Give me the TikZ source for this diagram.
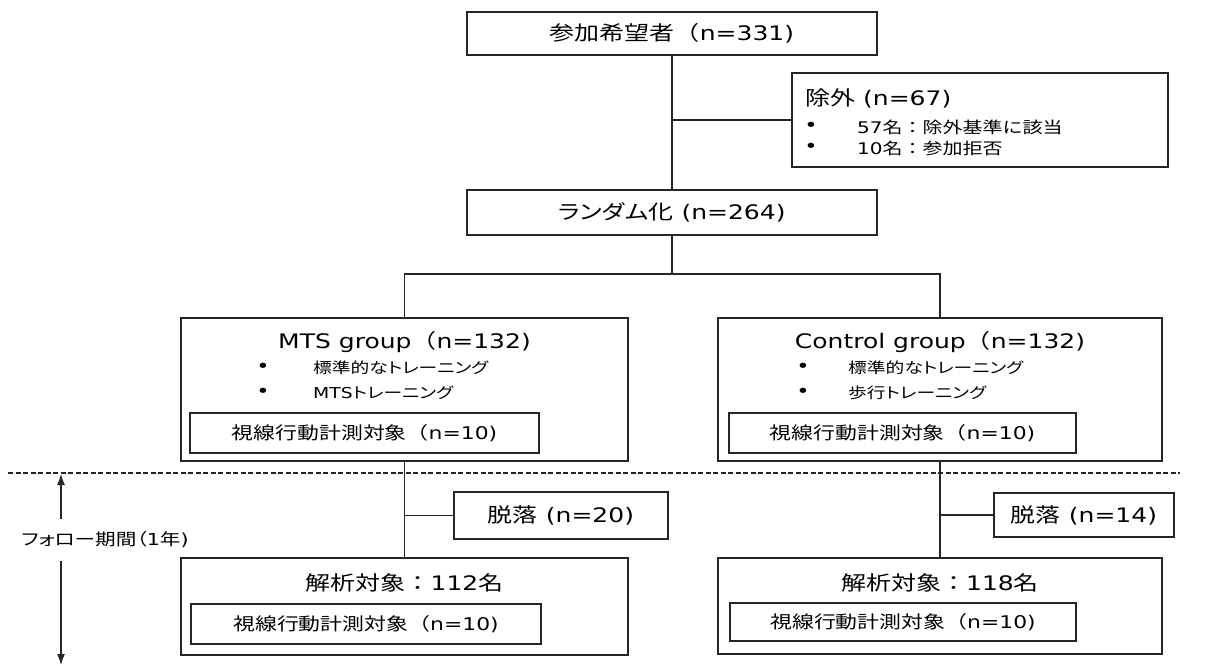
\documentclass[tikz,border=0pt]{standalone}
\usepackage{fontspec}
\setmainfont{DejaVu Sans}[FakeStretch=1.25]
\newfontfamily\jp{Noto Sans CJK JP}[FakeStretch=1.25]
\newfontfamily\jpp{Noto Sans CJK JP}[FakeStretch=1.25,RawFeature={+palt}]
\usetikzlibrary{arrows.meta}
\begin{document}
\begin{tikzpicture}[x=1pt,y=-1pt,
  bx/.style={draw=black!85, line width=1.3pt, inner sep=0pt, outer sep=0pt},
  ln/.style={draw=black!85, line width=1.3pt},
  ttl/.style={inner sep=0pt, font=\fontsize{20}{24}\selectfont},
  sub/.style={inner sep=0pt, font=\fontsize{17.5}{21}\selectfont},
  itm/.style={inner sep=0pt, anchor=west, font=\fontsize{15}{18}\selectfont},
  ditm/.style={inner sep=0pt, anchor=west, font=\fontsize{16}{19}\selectfont},
  dot/.style={inner sep=0pt, font=\fontsize{18}{20}\selectfont},
]
\useasboundingbox (0,0) rectangle (1212,666);

% top part
\node[bx, ttl, minimum width=410pt, minimum height=43pt] (top) at (672,33.5) {{\jp 参加希望者（}n=331)};
\node[bx, minimum width=376pt, minimum height=94pt] (excl) at (980,120) {};
\node[ttl, anchor=west] (exT) at (805,98) {{\jp 除外} (n=67)};
\node[dot] (eb1) at (811,127) {•};
\node[ditm] (ex1) at (857,127) {57{\jp 名：除外基準に該当}};
\node[dot] (eb2) at (811,148) {•};
\node[ditm] (ex2) at (857,148) {10{\jp 名：参加拒否}};
\node[bx, ttl, minimum width=410pt, minimum height=45pt] (rand) at (672,212.5) {{\jpp ランダム化} (n=264)};

% groups
\node[bx, minimum width=447pt, minimum height=143pt] (mts) at (404.5,389.5) {};
\node[ttl] (mtsT) at (404.5,342) {MTS group{\jp （}n=132)};
\node[dot] (mb1) at (263,368) {•};
\node[itm] (m1) at (313,368) {\jpp 標準的なトレーニング};
\node[dot] (mb2) at (263,393) {•};
\node[itm] (m2) at (313,393) {MTS{\jpp トレーニング}};
\node[bx, sub, minimum width=349pt, minimum height=40pt] (mtsIn) at (364.5,433) {{\jp 視線行動計測対象（}n=10)};

\node[bx, minimum width=444pt, minimum height=143pt] (ctl) at (940,389.5) {};
\node[ttl] (ctlT) at (940,342) {Control group{\jp （}n=132)};
\node[dot] (cb1) at (803,368) {•};
\node[itm] (c1) at (848,368) {\jpp 標準的なトレーニング};
\node[dot] (cb2) at (803,393) {•};
\node[itm] (c2) at (848,393) {\jpp 歩行トレーニング};
\node[bx, sub, minimum width=347pt, minimum height=40pt] (ctlIn) at (902.5,433) {{\jp 視線行動計測対象（}n=10)};

% follow-up part
\draw[draw=black!85, line width=1.1pt, dash pattern=on 5pt off 2.5pt] (8,473) -- (1180,473);

\node[bx, ttl, minimum width=214pt, minimum height=47pt] (drop1) at (561,515.5) {{\jp 脱落} (n=20)};
\node[bx, ttl, minimum width=180pt, minimum height=44pt] (drop2) at (1084,515) {{\jp 脱落} (n=14)};

\node[bx, minimum width=447pt, minimum height=97pt] (ana1) at (404.5,606.5) {};
\node[ttl] (ana1T) at (404.5,583) {{\jp 解析対象：}112{\jp 名}};
\node[bx, sub, minimum width=350pt, minimum height=40pt] (ana1In) at (366,624) {{\jp 視線行動計測対象（}n=10)};

\node[bx, minimum width=444pt, minimum height=96pt] (ana2) at (940,606) {};
\node[ttl] (ana2T) at (940,583) {{\jp 解析対象：}118{\jp 名}};
\node[bx, sub, minimum width=346pt, minimum height=38pt] (ana2In) at (903,622) {{\jp 視線行動計測対象（}n=10)};

% connectors
\coordinate (split) at (672,274);
\draw[ln] (top.south) -- (rand.north);
\draw[ln] (excl.west -| top.south) -- (excl.west);
\draw[ln] (rand.south) -- (split);
\draw[ln] (mts.north) |- (split) -| (ctl.north);
\draw[ln] (mts.south) -- (ana1.north);
\draw[ln] (drop1.west -| mts.south) -- (drop1.west);
\draw[ln] (ctl.south) -- (ana2.north);
\draw[ln] (drop2.west -| ctl.south) -- (drop2.west);

% follow-up period arrow
\node[inner sep=0pt, font=\fontsize{16.5}{19}\selectfont] (fol) at (105,540) {{\jpp フォロー期間（}1{\jp 年})};
\coordinate (aS1) at (61,519);
\coordinate (aTop) at (61,474);
\coordinate (aS2) at (61,561);
\coordinate (aBot) at (61,665);
\draw[ln, line width=1.1pt, -{Latex[length=11pt,width=8pt]}] (aS1) -- (aTop);
\draw[ln, line width=1.1pt, -{Latex[length=11pt,width=8pt]}] (aS2) -- (aBot);
\end{tikzpicture}
\end{document}
